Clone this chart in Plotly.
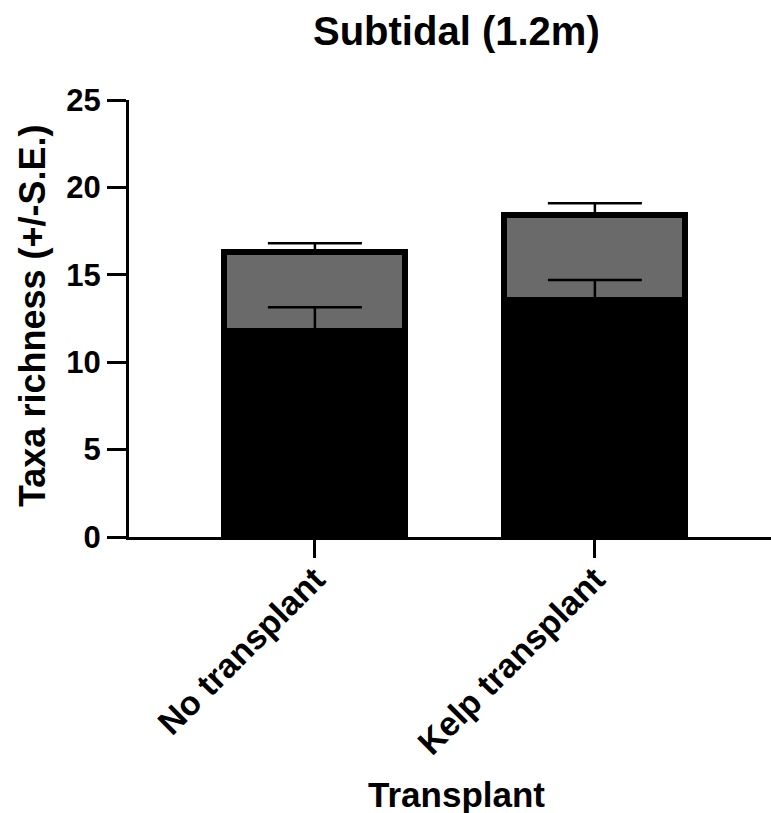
import plotly.graph_objects as go

categories = ["No transplant", "Kelp transplant"]
bottom_values = [11.8, 13.55]       # black segment
total_values = [16.3, 18.4]         # top of stacked bar
bottom_se = [1.35, 1.15]
total_se = [0.5, 0.7]

top_segment = [t - b for t, b in zip(total_values, bottom_values)]

FONT = "Arial, Liberation Sans, sans-serif"

fig = go.Figure()
fig.add_trace(go.Bar(
    x=categories, y=bottom_values, marker=dict(color="#000000", line=dict(color="#000000", width=6)),
    showlegend=False, hoverinfo="skip"))
fig.add_trace(go.Bar(
    x=categories, y=top_segment, marker=dict(color="#6a6a6a", line=dict(color="#000000", width=6)),
    showlegend=False, hoverinfo="skip"))
# error bars drawn above bars
fig.add_trace(go.Scatter(
    x=categories, y=bottom_values, mode="markers", marker=dict(color="rgba(0,0,0,0)", size=1),
    error_y=dict(type="data", array=bottom_se, arrayminus=[0, 0], symmetric=False,
                 color="#000000", thickness=2.5, width=47),
    showlegend=False, hoverinfo="skip"))
fig.add_trace(go.Scatter(
    x=categories, y=total_values, mode="markers", marker=dict(color="rgba(0,0,0,0)", size=1),
    error_y=dict(type="data", array=total_se, arrayminus=[0, 0], symmetric=False,
                 color="#000000", thickness=2.5, width=47),
    showlegend=False, hoverinfo="skip"))

fig.update_layout(
    width=771, height=813,
    margin=dict(l=129, r=0, t=100, b=276),
    barmode="stack", bargap=0.354,
    plot_bgcolor="white", paper_bgcolor="white",
    font=dict(family=FONT, color="#000000"),
    xaxis=dict(
        range=[-0.664, 1.629], showline=True, linecolor="#000000", linewidth=3,
        ticks="outside", ticklen=18, tickwidth=3, tickcolor="#000000",
        tickangle=-45, tickfont=dict(family=FONT, size=34, weight="bold"),
        ticklabelstandoff=-12,
        showgrid=False, zeroline=False),
    yaxis=dict(
        range=[0, 25], tickvals=[0, 5, 10, 15, 20, 25], showline=True, linecolor="#000000", linewidth=3,
        ticks="outside", ticklen=19, tickwidth=3, tickcolor="#000000",
        tickfont=dict(family=FONT, size=31, weight="bold"),
        showgrid=False, zeroline=False),
    annotations=[
        dict(text="<b>Subtidal (1.2m)</b>", xref="paper", yref="paper", x=(456 - 129) / 642, y=1 + (100 - 31) / 437,
             showarrow=False, font=dict(family=FONT, size=40), xanchor="center", yanchor="middle"),
        dict(text="<b>Transplant</b>", xref="paper", yref="paper", x=(456 - 129) / 642, y=-(794 - 537) / 437,
             showarrow=False, font=dict(family=FONT, size=35), xanchor="center", yanchor="middle"),
        dict(text="<b>Taxa richness (+/-S.E.)</b>", xref="paper", yref="paper", x=-(129 - 32) / 642,
             y=(537 - 316) / 437, textangle=-90,
             showarrow=False, font=dict(family=FONT, size=36), xanchor="center", yanchor="middle"),
    ],
)

fig.write_html("out.html", config={"displayModeBar": False},
               post_script="document.body.style.margin='0px';document.body.style.overflow='hidden';")
